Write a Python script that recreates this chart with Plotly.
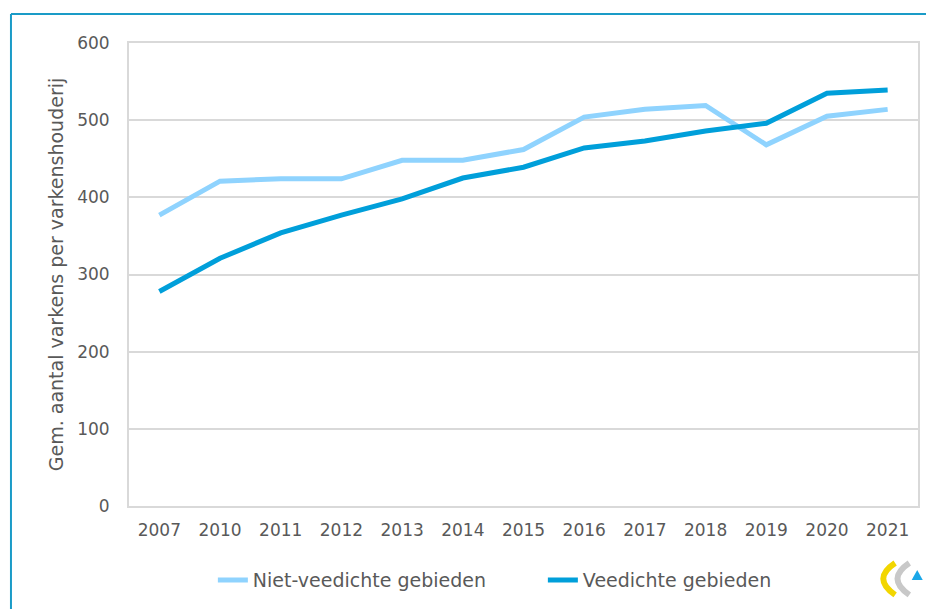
import plotly.graph_objects as go

years = ["2007", "2010", "2011", "2012", "2013", "2014", "2015", "2016", "2017", "2018", "2019", "2020", "2021"]
niet_veedicht = [377, 421, 424, 424, 448, 448, 462, 504, 514, 519, 468, 505, 514]
veedicht = [278, 321, 354, 377, 398, 425, 439, 464, 473, 486, 496, 535, 539]

font_fam = "DejaVu Sans, Verdana, sans-serif"
grey = "#595959"

fig = go.Figure()
fig.add_trace(go.Scatter(x=years, y=niet_veedicht, mode="lines", name="Niet-veedichte gebieden",
                         line=dict(color="#8fd3fe", width=5)))
fig.add_trace(go.Scatter(x=years, y=veedicht, mode="lines", name="Veedichte gebieden",
                         line=dict(color="#009fda", width=5)))

fig.update_layout(
    width=926, height=601,
    autosize=False,
    paper_bgcolor="white", plot_bgcolor="white",
    margin=dict(l=121, r=16, t=35, b=103, autoexpand=False),
    font=dict(family=font_fam, size=17, color=grey),
    showlegend=True,
    legend=dict(orientation="h", x=0.1063, xanchor="left", y=-0.16, yanchor="middle",
                font=dict(size=19, color=grey), traceorder="normal",
                entrywidthmode="pixels", entrywidth=285),
    xaxis=dict(type="category", range=[-0.5, 12.5], showgrid=False, showline=True,
               linecolor="#d9d9d9", linewidth=2, mirror=True, ticks="", ticklabelstandoff=8,
               tickfont=dict(size=17, color=grey)),
    yaxis=dict(range=[0, 600], dtick=100, showgrid=True, gridcolor="#d9d9d9", gridwidth=2,
               showline=True, linecolor="#d9d9d9", linewidth=2, mirror=True, zeroline=False,
               ticks="", ticklabelstandoff=14,
               tickfont=dict(size=17, color=grey),
               title=dict(text="Gem. aantal varkens per varkenshouderij", standoff=8,
                          font=dict(size=19, color=grey))),
    shapes=[
        dict(type="line", xref="paper", yref="paper", x0=-0.1496, x1=1.03, y0=1.0626, y1=1.0626,
             line=dict(color="#1a9bc7", width=2)),
        dict(type="line", xref="paper", yref="paper", x0=-0.1496, x1=-0.1496, y0=1.0626, y1=-0.3,
             line=dict(color="#1a9bc7", width=2)),
        # logo approximation
        dict(type="path", xref="paper", yref="paper",
             path="M 0.971,-0.123 Q 0.941,-0.157 0.971,-0.192", line=dict(color="#f2d600", width=6)),
        dict(type="path", xref="paper", yref="paper",
             path="M 0.989,-0.123 Q 0.959,-0.157 0.989,-0.192", line=dict(color="#c8c8c8", width=6)),
        dict(type="path", xref="paper", yref="paper",
             path="M 0.999,-0.138 L 1.006,-0.16 L 0.992,-0.16 Z", fillcolor="#1aa7e8", line=dict(width=0)),
    ],
)

fig.write_html("out.html")
